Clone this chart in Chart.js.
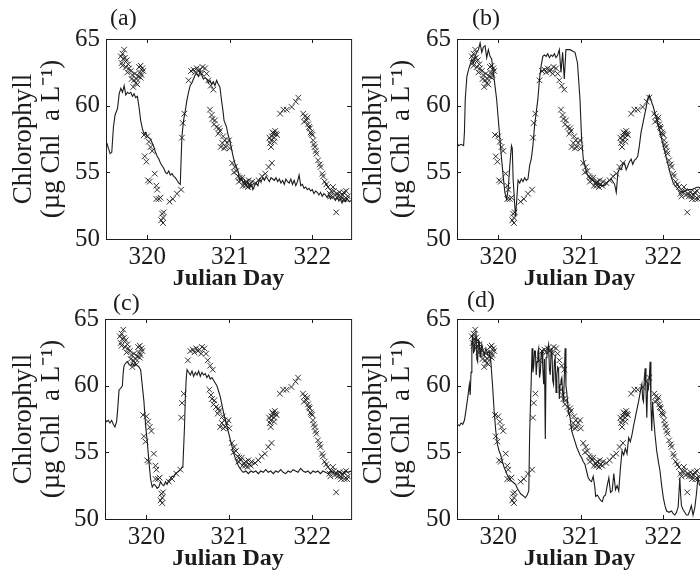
<!DOCTYPE html>
<html lang="en">
<head>
<meta charset="UTF-8" />
<title>Chlorophyll: model vs observations</title>
<script src="https://cdn.jsdelivr.net/npm/chart.js@4"></script>
<style>
    * { margin: 0; padding: 0; box-sizing: border-box; }
    html, body { width: 700px; height: 572px; overflow: hidden; background: #fff; }
    canvas { position: absolute; }
</style>
</head>
<body>
<canvas id="chartA" width="356" height="294" style="left:0;top:0"></canvas>
<canvas id="chartB" width="357" height="294" style="left:350px;top:0"></canvas>
<canvas id="chartC" width="356" height="294" style="left:0;top:280px"></canvas>
<canvas id="chartD" width="357" height="294" style="left:350px;top:280px"></canvas>

<script>
// axis ticks
const dayTicks = [320, 321, 322];
const chlTicks = [50, 55, 60, 65];

// observations (crosses), same in every panel
const obsDay = [
    319.68, 319.70, 319.72, 319.73, 319.75, 319.70, 319.74, 319.78, 319.80, 319.82, 319.84, 319.86,
    319.83, 319.88, 319.90, 319.92, 319.94, 319.95, 319.92, 319.89, 319.71, 319.76, 319.87,
    319.69, 319.77, 319.81, 319.85, 319.91, 319.93,
    319.96, 320.00, 320.02, 320.04, 320.06, 319.97, 319.99, 320.01, 320.03, 320.09, 320.11, 320.12,
    320.11, 320.14, 320.18, 320.20, 320.17, 320.19, 320.16, 320.19,
    320.27, 320.31, 320.36, 320.41, 320.42, 320.43, 320.45,
    320.50, 320.53, 320.56, 320.60, 320.64, 320.67, 320.70, 320.72, 320.74, 320.77, 320.80,
    320.58, 320.62, 320.66,
    320.76, 320.78, 320.82, 320.84, 320.88, 320.92, 320.94, 320.89, 320.93, 320.97, 321.00,
    320.79, 320.81, 320.86, 320.87, 320.91, 320.95, 320.99,
    321.03, 321.06, 321.08, 321.10, 321.14, 321.18, 321.22, 321.27, 321.31, 321.35, 321.39, 321.43,
    321.05, 321.11, 321.12, 321.15, 321.16, 321.19, 321.20, 321.23, 321.24, 321.26,
    321.47, 321.51, 321.49, 321.51, 321.53, 321.55, 321.57, 321.48, 321.50, 321.52, 321.54, 321.54, 321.56, 321.50,
    321.61, 321.65, 321.69, 321.75, 321.80, 321.83,
    321.89, 321.91, 321.93, 321.95, 321.97, 321.99, 322.01, 322.03, 322.05, 322.07, 322.10, 322.12,
    321.90, 321.94, 321.96, 321.98, 322.00, 322.02, 322.04, 322.09, 322.13, 322.17,
    322.15, 322.19, 322.23, 322.27, 322.31, 322.35, 322.39, 322.29, 322.43,
    322.21, 322.25, 322.33, 322.37, 322.41, 322.22, 322.26, 322.30, 322.34, 322.38, 322.42
];
const obsChl = [
    63.7, 63.9, 64.2, 63.6, 63.4, 63.0, 62.9, 62.8, 62.6, 62.3, 61.9, 61.7,
    61.4, 61.6, 62.9, 63.0, 62.8, 62.6, 62.1, 62.2, 63.5, 62.5, 62.0,
    63.2, 63.1, 62.0, 62.4, 62.5, 62.3,
    57.8, 57.7, 57.3, 56.9, 56.6, 56.2, 55.8, 54.4, 54.3, 54.9, 54.0, 53.7,
    53.0, 53.0, 51.9, 52.0, 51.4, 51.2, 53.1, 51.6,
    52.8, 53.0, 53.4, 53.7, 57.6, 58.7, 59.4,
    61.9, 62.6, 62.7, 62.8, 62.7, 62.9, 62.8, 62.4, 61.9, 61.5, 61.2,
    62.5, 62.6, 62.4,
    59.7, 59.3, 58.9, 58.4, 58.1, 57.7, 57.4, 56.9, 56.8, 57.2, 56.8,
    59.0, 58.6, 57.9, 58.3, 57.2, 56.9, 57.4,
    55.7, 55.4, 55.1, 54.7, 54.4, 54.2, 53.9, 54.3, 54.2, 54.4, 54.7, 54.9,
    55.0, 54.3, 54.6, 54.6, 54.0, 54.0, 54.3, 54.4, 54.1, 54.0,
    55.4, 55.7, 57.2, 57.7, 57.9, 58.1, 57.8, 57.6, 57.4, 58.0, 57.6, 57.3, 57.9, 56.9,
    59.4, 59.7, 59.7, 59.9, 60.3, 60.6,
    59.4, 59.2, 58.9, 58.6, 58.3, 57.9, 57.4, 56.9, 56.4, 55.9, 55.4, 54.9,
    58.8, 59.1, 58.4, 58.0, 57.8, 57.1, 56.6, 55.6, 54.7, 54.1,
    54.3, 53.9, 53.6, 53.3, 53.2, 53.0, 53.0, 52.0, 53.2,
    53.4, 53.9, 53.5, 53.3, 53.6, 53.2, 53.6, 53.4, 53.2, 53.5, 53.0
];

// model run (a)
const dayA = [
    319.51, 319.53, 319.55, 319.57, 319.59, 319.61, 319.64, 319.66, 319.68, 319.70, 319.72, 319.74,
    319.76, 319.78, 319.80, 319.82, 319.84, 319.86, 319.88, 319.90, 319.92, 319.94, 319.96, 319.98,
    320.00, 320.02, 320.04, 320.06, 320.08, 320.10, 320.12, 320.14, 320.16, 320.18, 320.20, 320.22,
    320.24, 320.26, 320.28, 320.30, 320.32, 320.34, 320.36, 320.38, 320.40, 320.42, 320.44, 320.46,
    320.48, 320.50, 320.52, 320.54, 320.56, 320.58, 320.60, 320.62, 320.64, 320.66, 320.68, 320.70,
    320.72, 320.74, 320.76, 320.78, 320.80, 320.82, 320.84, 320.86, 320.88, 320.90, 320.92, 320.93,
    320.96, 320.98, 321.00, 321.02, 321.04, 321.06, 321.08, 321.10, 321.12, 321.14, 321.16, 321.18,
    321.20, 321.22, 321.24, 321.26, 321.28, 321.30, 321.32, 321.34, 321.36, 321.38, 321.40, 321.42,
    321.44, 321.46, 321.48, 321.50, 321.52, 321.54, 321.56, 321.58, 321.60, 321.62, 321.64, 321.66,
    321.68, 321.70, 321.72, 321.74, 321.76, 321.78, 321.80, 321.82, 321.84, 321.86, 321.88, 321.90,
    321.92, 321.94, 321.96, 321.98, 322.00, 322.02, 322.04, 322.06, 322.08, 322.10, 322.12, 322.14,
    322.16, 322.18, 322.20, 322.22, 322.24, 322.26, 322.28, 322.30, 322.32, 322.34, 322.36, 322.38,
    322.40, 322.42, 322.45, 322.47
];
const chlA = [
    57.2, 56.8, 56.4, 56.5, 58.4, 59.3, 59.8, 60.9, 61.3, 61.0, 61.5, 60.8,
    61.0, 60.9, 61.0, 60.7, 60.9, 60.6, 60.7, 59.9, 58.9, 58.3, 57.9, 58.0,
    57.7, 57.6, 57.5, 57.2, 56.9, 56.5, 56.2, 56.0, 55.7, 55.5, 55.3, 55.0,
    54.9, 55.1, 54.8, 54.9, 54.7, 54.6, 54.4, 54.2, 54.1, 57.7, 58.9, 59.6,
    60.4, 61.0, 61.5, 61.7, 62.0, 62.3, 62.4, 62.2, 62.6, 62.3, 62.0, 62.1,
    62.0, 61.7, 61.9, 61.6, 61.8, 61.5, 61.9, 61.6, 61.4, 60.4, 59.5, 58.9,
    58.4, 57.8, 57.4, 56.8, 56.2, 55.7, 55.4, 55.1, 54.4, 54.6, 54.2, 54.4,
    54.0, 54.3, 53.8, 54.1, 53.7, 54.0, 54.2, 54.0, 54.5, 54.3, 54.6, 54.4,
    54.7, 54.5, 54.3, 54.6, 54.5, 54.4, 54.6, 54.3, 54.5, 54.2, 54.4, 54.1,
    54.5, 54.3, 54.2, 54.5, 54.1, 54.4, 54.0, 54.3, 54.8, 54.0, 54.1, 53.8,
    53.9, 53.7, 53.8, 53.6, 53.7, 53.4, 53.6, 53.5, 53.3, 53.5, 53.2, 53.4,
    53.3, 53.1, 53.3, 53.0, 53.2, 53.1, 52.9, 53.1, 52.9, 53.0, 52.7, 53.0,
    52.8, 53.0, 52.8, 52.9
];

// model run (b)
const dayB = [
    319.50, 319.52, 319.55, 319.58, 319.59, 319.60, 319.62, 319.64, 319.66, 319.68, 319.70, 319.72,
    319.74, 319.76, 319.78, 319.80, 319.82, 319.84, 319.86, 319.88, 319.90, 319.92, 319.94, 319.96,
    319.98, 320.00, 320.02, 320.04, 320.06, 320.08, 320.10, 320.12, 320.14, 320.16, 320.17, 320.18,
    320.20, 320.21, 320.23, 320.24, 320.26, 320.28, 320.30, 320.32, 320.34, 320.36, 320.38, 320.40,
    320.42, 320.44, 320.46, 320.48, 320.50, 320.52, 320.54, 320.56, 320.58, 320.60, 320.62, 320.64,
    320.66, 320.68, 320.70, 320.72, 320.74, 320.76, 320.78, 320.80, 320.82, 320.84, 320.87, 320.90,
    320.93, 320.96, 320.99, 321.01, 321.03, 321.05, 321.07, 321.09, 321.12, 321.15, 321.18, 321.21,
    321.25, 321.29, 321.33, 321.37, 321.41, 321.43, 321.45, 321.47, 321.49, 321.51, 321.53, 321.55,
    321.57, 321.59, 321.61, 321.63, 321.65, 321.67, 321.69, 321.71, 321.73, 321.75, 321.77, 321.79,
    321.81, 321.83, 321.85, 321.88, 321.90, 321.92, 321.94, 321.96, 321.98, 322.00, 322.02, 322.04,
    322.06, 322.08, 322.10, 322.12, 322.14, 322.16, 322.18, 322.20, 322.23, 322.26, 322.30, 322.34,
    322.38, 322.42, 322.47
];
const chlB = [
    57.2, 57.0, 57.1, 57.0, 58.0, 60.5, 62.2, 62.7, 63.1, 63.5, 63.2, 63.7,
    64.0, 64.2, 64.7, 64.0, 64.4, 64.5, 63.6, 64.2, 63.7, 63.5, 62.5, 61.5,
    60.5, 59.0, 57.5, 56.0, 54.7, 53.5, 53.0, 53.7, 55.5, 57.0, 56.8, 54.5,
    52.5, 51.7, 53.5, 54.4, 54.2, 54.5, 54.3, 54.6, 54.4, 54.5, 55.5, 56.0,
    57.0, 58.5, 59.5, 60.5, 62.0, 63.0, 63.7, 63.8, 63.7, 63.9, 63.6, 63.8,
    63.7, 63.9, 63.6, 63.8, 64.2, 62.5, 64.0, 62.0, 64.2, 64.2, 64.2, 64.1,
    64.0, 63.2, 60.5, 57.5, 56.0, 55.5, 55.0, 54.7, 54.5, 54.4, 54.3, 54.1,
    54.0, 54.0, 54.3, 54.5, 54.1, 53.5, 55.0, 55.3, 55.2, 55.6, 55.7, 55.2,
    55.5, 55.8, 56.0, 55.6, 55.9, 56.0, 56.2, 57.0, 58.0, 58.6, 59.2, 59.8,
    60.5, 60.8, 60.4, 59.9, 59.4, 59.0, 58.5, 58.0, 57.5, 57.0, 56.5, 56.0,
    55.5, 55.0, 54.6, 54.2, 54.0, 53.9, 53.7, 53.6, 53.5, 53.6, 53.7, 53.7,
    53.8, 53.9, 53.8
];

// model run (c)
const dayC = [
    319.50, 319.52, 319.54, 319.56, 319.58, 319.60, 319.62, 319.64, 319.65, 319.67, 319.69, 319.71,
    319.72, 319.73, 319.75, 319.77, 319.79, 319.81, 319.83, 319.85, 319.87, 319.89, 319.91, 319.93,
    319.95, 319.97, 319.99, 320.01, 320.03, 320.05, 320.07, 320.09, 320.11, 320.13, 320.15, 320.17,
    320.19, 320.21, 320.23, 320.25, 320.27, 320.29, 320.31, 320.33, 320.35, 320.37, 320.39, 320.41,
    320.43, 320.44, 320.46, 320.47, 320.48, 320.49, 320.51, 320.53, 320.55, 320.57, 320.59, 320.61,
    320.63, 320.65, 320.67, 320.69, 320.71, 320.73, 320.75, 320.77, 320.79, 320.81, 320.83, 320.85,
    320.87, 320.89, 320.91, 320.93, 320.95, 320.97, 320.99, 321.01, 321.03, 321.05, 321.07, 321.09,
    321.11, 321.13, 321.15, 321.17, 321.20, 321.23, 321.26, 321.29, 321.32, 321.35, 321.38, 321.41,
    321.44, 321.47, 321.50, 321.53, 321.56, 321.59, 321.62, 321.65, 321.68, 321.71, 321.74, 321.77,
    321.80, 321.83, 321.86, 321.89, 321.92, 321.95, 321.98, 322.01, 322.04, 322.07, 322.10, 322.13,
    322.16, 322.19, 322.22, 322.25, 322.28, 322.31, 322.34, 322.37, 322.40, 322.43, 322.47
];
const chlC = [
    57.5, 57.3, 57.4, 57.2, 57.4, 57.1, 56.9, 57.3, 58.0, 59.7, 59.8, 60.0,
    61.0, 61.5, 61.7, 61.8, 61.6, 61.5, 61.7, 61.5, 61.6, 61.5, 61.4, 61.2,
    60.0, 58.8, 57.0, 55.8, 54.3, 53.0, 52.4, 52.6, 52.5, 52.3, 52.4, 52.8,
    52.6, 52.5, 52.8, 52.6, 52.9, 53.0, 53.2, 53.2, 53.4, 53.5, 53.6, 53.7,
    53.9, 54.0, 57.0, 59.2, 60.5, 61.2, 61.0, 60.8, 61.1, 60.7, 61.0, 60.8,
    61.1, 60.7, 61.0, 60.8, 60.9, 60.6, 60.8, 60.5, 60.6, 60.4, 60.2, 60.0,
    59.6, 59.2, 58.6, 58.0, 57.5, 57.0, 56.5, 56.0, 55.5, 55.0, 54.6, 54.3,
    54.0, 53.8, 53.6, 53.5, 53.6, 53.4, 53.6, 53.5, 53.6, 53.4, 53.6, 53.5,
    53.7, 53.5, 53.6, 53.4, 53.6, 53.5, 53.7, 53.5, 53.4, 53.6, 53.5, 53.7,
    53.6, 53.5, 53.8, 53.6, 53.5, 53.6, 53.4, 53.6, 53.5, 53.6, 53.4, 53.6,
    53.5, 53.4, 53.6, 53.5, 53.4, 53.6, 53.5, 53.4, 53.6, 53.5, 53.6
];

// model run (d)
const dayD = [
    319.50, 319.53, 319.55, 319.57, 319.59, 319.61, 319.63, 319.65, 319.66, 319.67, 319.68, 319.69,
    319.70, 319.71, 319.72, 319.73, 319.74, 319.75, 319.76, 319.77, 319.78, 319.79, 319.80, 319.81,
    319.83, 319.85, 319.87, 319.89, 319.91, 319.93, 319.95, 319.97, 319.99, 320.01, 320.03, 320.05,
    320.07, 320.09, 320.11, 320.13, 320.15, 320.17, 320.19, 320.21, 320.23, 320.25, 320.27, 320.29,
    320.31, 320.33, 320.35, 320.37, 320.38, 320.39, 320.40, 320.41, 320.42, 320.43, 320.44, 320.45,
    320.46, 320.47, 320.48, 320.49, 320.50, 320.51, 320.52, 320.53, 320.54, 320.55, 320.56, 320.57,
    320.58, 320.59, 320.60, 320.61, 320.62, 320.63, 320.64, 320.65, 320.66, 320.67, 320.68, 320.69,
    320.70, 320.71, 320.72, 320.73, 320.74, 320.75, 320.76, 320.77, 320.78, 320.79, 320.80, 320.81,
    320.82, 320.83, 320.85, 320.87, 320.89, 320.91, 320.93, 320.95, 320.97, 320.99, 321.01, 321.03,
    321.05, 321.07, 321.09, 321.11, 321.13, 321.15, 321.17, 321.18, 321.20, 321.22, 321.24, 321.26,
    321.28, 321.30, 321.32, 321.34, 321.36, 321.38, 321.40, 321.42, 321.44, 321.46, 321.48, 321.50,
    321.52, 321.54, 321.56, 321.58, 321.60, 321.62, 321.64, 321.66, 321.68, 321.70, 321.72, 321.74,
    321.75, 321.76, 321.77, 321.78, 321.79, 321.80, 321.81, 321.82, 321.83, 321.84, 321.85, 321.86,
    321.87, 321.88, 321.90, 321.92, 321.94, 321.96, 321.98, 322.00, 322.02, 322.04, 322.07, 322.10,
    322.12, 322.14, 322.16, 322.18, 322.20, 322.21, 322.22, 322.24, 322.26, 322.28, 322.30, 322.32,
    322.34, 322.36, 322.38, 322.40, 322.42, 322.44
];
const chlD = [
    57.1, 57.0, 57.2, 57.1, 57.4, 58.2, 59.1, 60.1, 59.3, 61.0, 63.1, 63.8,
    62.5, 62.6, 63.5, 64.1, 62.0, 61.8, 63.4, 63.3, 62.2, 62.6, 63.1, 62.8,
    62.3, 62.8, 62.4, 62.6, 61.8, 60.1, 58.1, 56.6, 55.6, 55.1, 54.8, 54.3,
    53.9, 53.6, 53.3, 53.1, 52.9, 52.8, 52.7, 52.6, 52.3, 52.1, 51.9, 51.8,
    51.7, 51.6, 51.8, 52.1, 56.3, 58.6, 60.5, 62.8, 61.0, 61.5, 62.6, 62.6,
    60.8, 61.8, 62.5, 62.8, 60.6, 61.0, 62.5, 62.6, 61.3, 60.1, 62.0, 56.0,
    62.1, 62.6, 62.8, 63.1, 61.2, 60.8, 62.5, 62.8, 60.4, 60.1, 61.8, 62.1,
    59.5, 60.8, 61.4, 61.3, 59.0, 60.1, 60.4, 60.6, 59.5, 58.8, 60.5, 62.8,
    60.0, 59.5, 58.1, 57.6, 56.6, 56.2, 55.8, 55.4, 55.1, 54.8, 54.6, 54.3,
    54.1, 53.6, 53.1, 52.9, 52.8, 53.2, 52.4, 51.7, 51.8, 51.6, 51.4, 51.3,
    51.7, 51.8, 52.5, 53.1, 52.0, 52.1, 53.4, 52.2, 52.5, 52.1, 53.8, 55.1,
    54.8, 55.3, 54.9, 56.1, 55.8, 56.3, 57.0, 57.6, 58.2, 58.8, 59.5, 60.1,
    59.0, 58.8, 60.6, 61.3, 59.6, 57.6, 60.1, 59.8, 60.6, 61.8, 58.5, 56.6,
    58.8, 57.8, 56.3, 55.1, 54.3, 53.6, 52.5, 51.6, 51.0, 50.6, 50.5, 50.6,
    50.4, 50.3, 50.5, 50.9, 53.1, 51.8, 51.0, 50.7, 50.5, 50.3, 50.3, 50.6,
    51.0, 50.3, 50.8, 51.8, 53.1, 52.5
];

const ink = "#1c1c1c";
const serif = '"Liberation Serif", "Times New Roman", serif';
Chart.defaults.font.family = serif;
Chart.defaults.color = ink;

// box round the plot area, small inward ticks and the panel letter
const framePlugin = {
    id: "frame",
    afterDatasetsDraw(chart, args, opts) {
        const { ctx, chartArea: a, scales } = chart;
        ctx.save();
        ctx.strokeStyle = ink;
        ctx.lineWidth = 1;
        ctx.strokeRect(a.left + 0.5, a.top + 0.5, a.right - a.left, a.bottom - a.top);
        ctx.beginPath();
        dayTicks.forEach((v) => {
            const x = Math.round(scales.x.getPixelForValue(v)) + 0.5;
            ctx.moveTo(x, a.bottom); ctx.lineTo(x, a.bottom - 4);
            ctx.moveTo(x, a.top); ctx.lineTo(x, a.top + 4);
        });
        chlTicks.forEach((v) => {
            const y = Math.round(scales.y.getPixelForValue(v)) + 0.5;
            ctx.moveTo(a.left, y); ctx.lineTo(a.left + 4, y);
            ctx.moveTo(a.right, y); ctx.lineTo(a.right - 4, y);
        });
        ctx.stroke();
        ctx.fillStyle = ink;
        ctx.font = "24px " + serif;
        ctx.textBaseline = "alphabetic";
        ctx.fillText(opts.label, a.left + opts.dx, a.top - opts.dy);
        ctx.restore();
    },
};

function toPoints(xs, ys) {
    return xs.map((x, i) => ({ x: x, y: ys[i] }));
}

function makePanel(id, days, chl, label, yAxisWidth, dx, dy) {
    return new Chart(document.getElementById(id), {
        type: "scatter",
        data: {
            datasets: [
                {
                    label: "model",
                    data: toPoints(days, chl),
                    showLine: true,
                    borderColor: ink,
                    borderWidth: 1.1,
                    pointRadius: 0,
                    tension: 0,
                },
                {
                    label: "observed",
                    data: toPoints(obsDay, obsChl),
                    pointStyle: "crossRot",
                    pointRadius: 4,
                    borderColor: ink,
                    borderWidth: 0.9,
                    backgroundColor: ink,
                },
            ],
        },
        options: {
            responsive: false,
            animation: false,
            layout: { padding: { top: 39, right: 4, left: 0, bottom: 0 } },
            plugins: {
                legend: { display: false },
                tooltip: { enabled: false },
                frame: { label: label, dx: dx, dy: dy },
            },
            scales: {
                x: {
                    type: "linear",
                    min: 319.5,
                    max: 322.47,
                    afterBuildTicks: (s) => { s.ticks = dayTicks.map((v) => ({ value: v })); },
                    afterFit: (s) => { s.height = 55; },
                    grid: { display: false, drawTicks: false },
                    border: { display: false },
                    ticks: { font: { size: 25 }, padding: 3, maxRotation: 0 },
                    title: {
                        display: true,
                        text: "Julian Day",
                        font: { size: 24, weight: "bold", lineHeight: 1.1 },
                        padding: { top: 0, bottom: 2 },
                    },
                },
                y: {
                    min: 50,
                    max: 65,
                    afterBuildTicks: (s) => { s.ticks = chlTicks.map((v) => ({ value: v })); },
                    afterFit: (s) => { s.width = yAxisWidth; },
                    grid: { display: false, drawTicks: false },
                    border: { display: false },
                    ticks: { font: { size: 25 }, padding: 6 },
                    title: {
                        display: true,
                        text: ["Chlorophyll", "(\u00b5g Chl  a L\u207b\u00b9)"],
                        font: { size: 27, lineHeight: 1.07 },
                        padding: { top: 9, bottom: 0 },
                    },
                },
            },
        },
        plugins: [framePlugin],
    });
}

makePanel("chartA", dayA, chlA, "(a)", 106, 4, 14);
makePanel("chartB", dayB, chlB, "(b)", 107, 15, 14);
makePanel("chartC", dayC, chlC, "(c)", 105, 8, 9);
makePanel("chartD", dayD, chlD, "(d)", 107, 10, 12);
</script>
</body>
</html>
